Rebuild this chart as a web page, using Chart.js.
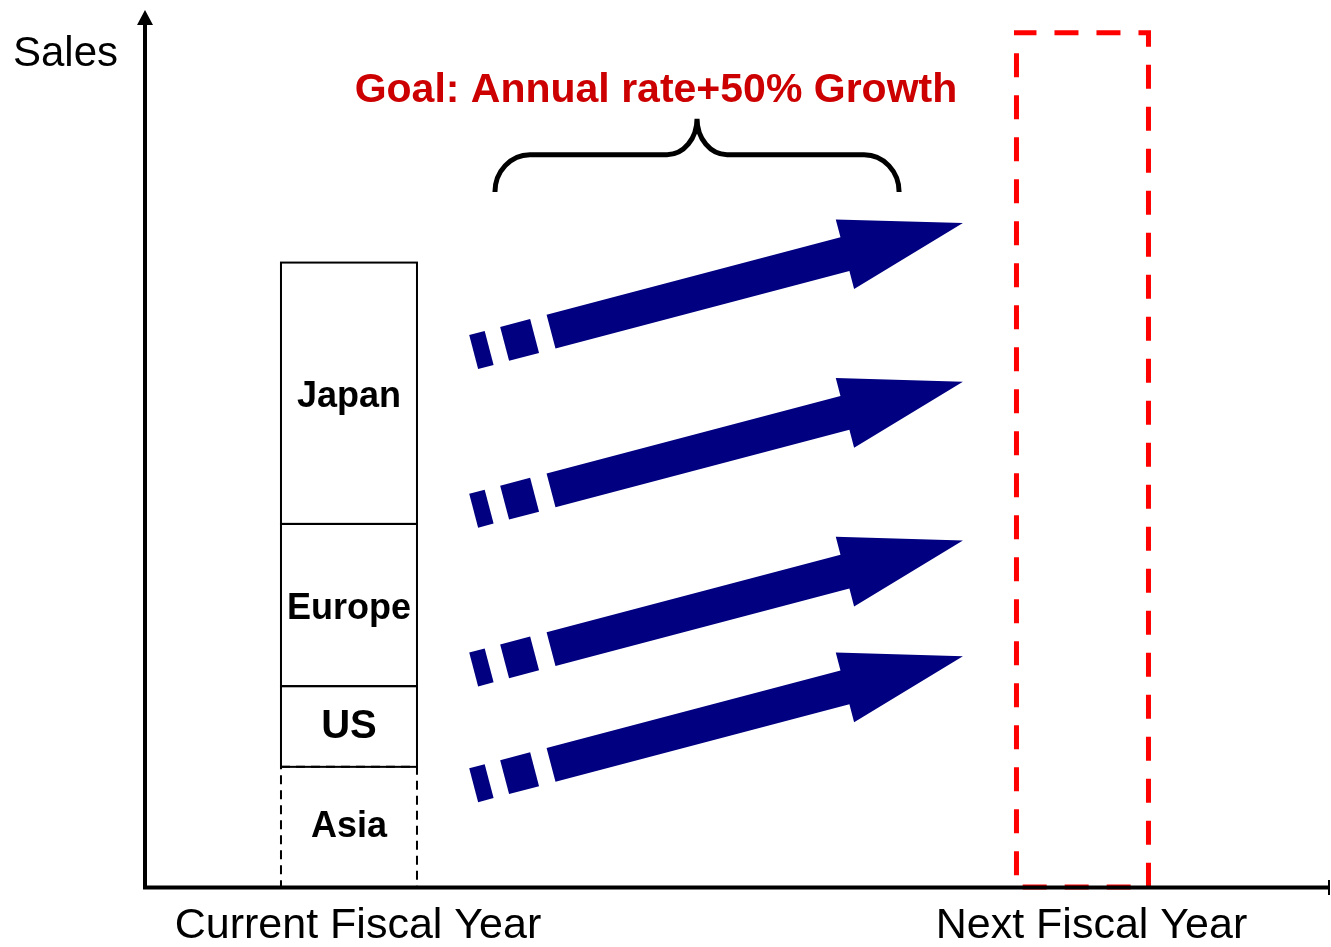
<!DOCTYPE html>
<html>
<head>
<meta charset="utf-8">
<title>Sales growth goal</title>
<script src="https://cdn.jsdelivr.net/npm/chart.js@4.4.1/dist/chart.umd.min.js"></script>
<style>
  html, body { margin: 0; padding: 0; background: #fff; }
  #wrap { position: relative; width: 1331px; height: 947px; }
</style>
</head>
<body>
<div id="wrap"><canvas id="sales-chart"></canvas></div>
<script>
// Fiscal years on the x axis, sales split by region
const years = ['Current Fiscal Year', 'Next Fiscal Year'];
const regions = ['Asia', 'US', 'Europe', 'Japan'];
const currentSales = [13.7, 9.2, 18.5, 29.8];
const nextYearTarget = 97.4;
const salesMax = 100;

const axisTitle = 'Sales';
const goalText = 'Goal: Annual rate+50% Growth';

const FONT = "'Liberation Sans', Arial, Helvetica, sans-serif";
const NAVY = '#000080';
const GOAL_RED = '#cc0000';

// box outline + label look for each region
const regionStyle = {
    Asia:   { dash: [9, 6], size: 36, shift: 0 },
    US:     { dash: [],     size: 40, shift: 0 },
    Europe: { dash: [],     size: 36, shift: 4 },
    Japan:  { dash: [],     size: 36, shift: 4 }
};

// growth arrows, in axis units (x = year index, y = sales)
const arrowTipLevels = [75.7, 57.6, 39.5, 26.3];
const arrowRise = 14.7;
const arrowFromX = 0.17;
const arrowToX = 0.837;

function drawArrow(ctx, x0, y0, x1, y1) {
    const dx = x1 - x0, dy = y1 - y0;
    const len = Math.hypot(dx, dy);
    const ux = dx / len, uy = dy / len;
    const nx = -uy, ny = ux;
    const P = (s, t) => [x0 + ux * s + nx * t, y0 + uy * s + ny * t];
    const half = 17.5, headHalf = 36, headLen = 122;

    const poly = pts => {
        ctx.beginPath();
        ctx.moveTo(pts[0][0], pts[0][1]);
        pts.slice(1).forEach(p => ctx.lineTo(p[0], p[1]));
        ctx.closePath();
        ctx.fill();
    };

    ctx.fillStyle = NAVY;
    // broken tail
    [[0, 16], [32, 63]].forEach(([a, b]) => {
        poly([P(a, -half), P(b, -half), P(b, half), P(a, half)]);
    });
    // shaft and head
    const hb = len - headLen;
    poly([P(80, -half), P(hb, -half), P(hb, -headHalf), P(len, 0),
          P(hb, headHalf), P(hb, half), P(80, half)]);
}

function drawBrace(ctx, xL, xR, yEnd, yBar, yPeak) {
    const k = 0.552;
    const xc = (xL + xR) / 2;
    const r = 35, m = 30;
    ctx.beginPath();
    ctx.moveTo(xL, yEnd);
    ctx.bezierCurveTo(xL, yEnd - k * (yEnd - yBar), xL + r - k * r, yBar, xL + r, yBar);
    ctx.lineTo(xc - m, yBar);
    ctx.bezierCurveTo(xc - m + k * m, yBar, xc, yPeak + k * (yBar - yPeak), xc, yPeak);
    ctx.bezierCurveTo(xc, yPeak + k * (yBar - yPeak), xc + m - k * m, yBar, xc + m, yBar);
    ctx.lineTo(xR - r, yBar);
    ctx.bezierCurveTo(xR - r + k * r, yBar, xR, yEnd - k * (yEnd - yBar), xR, yEnd);
    ctx.stroke();
}

const decorations = {
    id: 'decorations',
    afterDatasetsDraw(chart) {
        const ctx = chart.ctx;
        const xs = chart.scales.x, ys = chart.scales.y;
        const area = chart.chartArea;

        ctx.save();

        // bar outlines (bar elements can't dash their own borders)
        chart.data.datasets.forEach((ds, i) => {
            const el = chart.getDatasetMeta(i).data[0];
            if (!el) return;
            const p = el.getProps(['x', 'y', 'base', 'width'], true);
            ctx.strokeStyle = ds.outlineColor;
            ctx.lineWidth = ds.outlineWidth;
            ctx.setLineDash(ds.outlineDash);
            ctx.lineDashOffset = ds.outlineDashOffset || 0;
            ctx.strokeRect(p.x - p.width / 2, p.y, p.width, p.base - p.y);
        });
        ctx.setLineDash([]);
        ctx.lineDashOffset = 0;

        // region names inside the stacked boxes
        ctx.fillStyle = '#000';
        ctx.textAlign = 'center';
        ctx.textBaseline = 'middle';
        regions.forEach((name, i) => {
            const el = chart.getDatasetMeta(i).data[0];
            const st = regionStyle[name];
            ctx.font = 'bold ' + st.size + 'px ' + FONT;
            ctx.fillText(name, el.x, (el.y + el.base) / 2 + st.shift);
        });

        // growth arrows
        arrowTipLevels.forEach(level => {
            drawArrow(ctx,
                xs.getPixelForValue(arrowFromX), ys.getPixelForValue(level - arrowRise),
                xs.getPixelForValue(arrowToX), ys.getPixelForValue(level));
        });

        // brace over the arrows
        ctx.strokeStyle = '#000';
        ctx.lineWidth = 5;
        drawBrace(ctx,
            xs.getPixelForValue(0.199), xs.getPixelForValue(0.750),
            ys.getPixelForValue(79.25), ys.getPixelForValue(83.5), ys.getPixelForValue(87.6));

        // goal caption
        ctx.fillStyle = GOAL_RED;
        ctx.font = 'bold 41px ' + FONT;
        ctx.textBaseline = 'alphabetic';
        ctx.fillText(goalText, xs.getPixelForValue(0.4185), ys.getPixelForValue(89.5));

        // axes with arrow ends
        ctx.strokeStyle = '#000';
        ctx.fillStyle = '#000';
        ctx.lineWidth = 4;
        ctx.beginPath();
        ctx.moveTo(area.left, area.bottom + 2);
        ctx.lineTo(area.left, area.top + 14);
        ctx.stroke();
        ctx.beginPath();
        ctx.moveTo(area.left, area.top);
        ctx.lineTo(area.left - 8, area.top + 15);
        ctx.lineTo(area.left + 8, area.top + 15);
        ctx.closePath();
        ctx.fill();

        ctx.beginPath();
        ctx.moveTo(area.left - 2, area.bottom + 0.5);
        ctx.lineTo(area.right, area.bottom + 0.5);
        ctx.stroke();
        ctx.fillRect(area.right - 1, area.bottom - 7, 2, 15);

        // y axis title
        ctx.font = '42px ' + FONT;
        ctx.textAlign = 'left';
        ctx.fillText(axisTitle, 13, 66);

        ctx.restore();
    }
};

const datasets = regions.map((name, i) => ({
    label: name,
    data: [{ x: 0, y: currentSales[i] }],
    backgroundColor: '#ffffff',
    borderWidth: 0,
    barThickness: 136,
    outlineColor: '#000',
    outlineWidth: 2,
    outlineDash: regionStyle[name].dash
}));

datasets.push({
    label: 'Target',
    data: [{ x: 1, y: nextYearTarget }],
    backgroundColor: 'rgba(0,0,0,0)',
    borderWidth: 0,
    barThickness: 132,
    outlineColor: '#ff0000',
    outlineWidth: 5,
    outlineDash: [24, 18],
    outlineDashOffset: 4
});

const ctx = document.getElementById('sales-chart').getContext('2d');
new Chart(ctx, {
    type: 'bar',
    data: { datasets: datasets },
    options: {
        responsive: true,
        maintainAspectRatio: false,
        animation: false,
        devicePixelRatio: 1,
        layout: { padding: { left: 145, right: 2, top: 10, bottom: 0 } },
        plugins: {
            legend: { display: false },
            tooltip: { enabled: false }
        },
        scales: {
            x: {
                type: 'linear',
                offset: false,
                stacked: true,
                bounds: 'data',
                min: -0.2781,
                max: 1.3361,
                grid: { display: false, drawTicks: false, offset: false },
                border: { display: false },
                afterBuildTicks: scale => {
                    scale.ticks = years.map((_, i) => ({ value: i }));
                },
                afterFit: scale => {
                    scale.height = 60;
                },
                ticks: {
                    autoSkip: false,
                    maxRotation: 0,
                    padding: 13,
                    labelOffset: 9,
                    color: '#000',
                    font: { family: FONT, size: 43 },
                    callback: value => years[value]
                }
            },
            y: {
                type: 'linear',
                stacked: true,
                min: 0,
                max: salesMax,
                display: false
            }
        }
    },
    plugins: [decorations]
});
</script>
</body>
</html>
